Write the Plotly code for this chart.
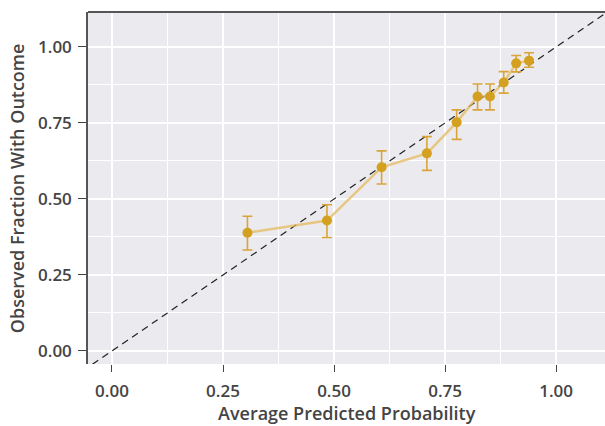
import plotly.graph_objects as go

pred_prob = [0.305, 0.484, 0.607, 0.709, 0.776, 0.823, 0.851, 0.882, 0.910, 0.939]
obs_frac = [0.389, 0.429, 0.604, 0.650, 0.752, 0.837, 0.837, 0.883, 0.946, 0.955]
ci_upper = [0.443, 0.481, 0.658, 0.705, 0.793, 0.878, 0.878, 0.919, 0.972, 0.981]
ci_lower = [0.332, 0.373, 0.549, 0.594, 0.696, 0.793, 0.793, 0.848, 0.918, 0.933]
tick_vals = [0.0, 0.25, 0.5, 0.75, 1.0]
tick_text = ["0.00", "0.25", "0.50", "0.75", "1.00"]
diag = [-0.2, 1.3]
x_title = "Average Predicted Probability"
y_title = "Observed Fraction With Outcome"

err_plus = [u - y for u, y in zip(ci_upper, obs_frac)]
err_minus = [y - l for y, l in zip(obs_frac, ci_lower)]

gold = "#D4A020"
fig = go.Figure()
fig.add_trace(go.Scatter(x=diag, y=diag, mode="lines",
                         line=dict(color="#222222", width=1.2, dash="7px,5px"),
                         hoverinfo="skip", showlegend=False))
fig.add_trace(go.Scatter(x=pred_prob, y=obs_frac, mode="lines",
                         line=dict(color="rgba(230,185,95,0.75)", width=2.5),
                         showlegend=False))
fig.add_trace(go.Scatter(x=pred_prob, y=obs_frac, mode="markers",
                         marker=dict(color=gold, size=10),
                         error_y=dict(type="data", symmetric=False, array=err_plus,
                                      arrayminus=err_minus, color="#D9A43A",
                                      thickness=1.6, width=5),
                         showlegend=False))

font_family = "Open Sans"
title_font = dict(size=18, family=font_family, color="#444444", weight=600)
fig.update_layout(
    width=605, height=426,
    margin=dict(l=88, r=0, t=12, b=62),
    paper_bgcolor="white",
    plot_bgcolor="#EBEBEF",
    font=dict(family=font_family, color="#444444"),
    shapes=[dict(type="line", xref="paper", yref="paper", x0=0, x1=1, y0=1, y1=1,
                 line=dict(color="#555555", width=2))],
    annotations=[
        dict(text=x_title, xref="paper", yref="paper", x=0.5, y=-0.139,
             xanchor="center", yanchor="middle", showarrow=False, font=title_font),
        dict(text=y_title, xref="paper", yref="paper", x=-0.137, y=0.5,
             xanchor="center", yanchor="middle", textangle=-90, showarrow=False,
             font=title_font),
    ],
)
fig.update_xaxes(
    range=[-0.054, 1.110], tickvals=tick_vals, ticktext=tick_text,
    ticks="outside", ticklen=7, tickcolor="#444444", tickwidth=1,
    ticklabelstandoff=5,
    showgrid=True, gridcolor="white", gridwidth=1.6,
    minor=dict(dtick=0.125, showgrid=True, gridcolor="white", gridwidth=0.8, tick0=0),
    zeroline=False, showline=False, automargin=False,
    tickfont=dict(size=17, family=font_family, color="#444444", weight=600),
)
fig.update_yaxes(
    range=[-0.043, 1.115], tickvals=tick_vals, ticktext=tick_text,
    ticks="outside", ticklen=8, tickcolor="#444444", tickwidth=1,
    ticklabelstandoff=3,
    showgrid=True, gridcolor="white", gridwidth=1.6,
    minor=dict(dtick=0.125, showgrid=True, gridcolor="white", gridwidth=0.8, tick0=0),
    zeroline=False, showline=True, linecolor="#555555", linewidth=1.5,
    automargin=False,
    tickfont=dict(size=17, family=font_family, color="#444444", weight=600),
)
fig.write_html("out.html", config={"displayModeBar": False},
               post_script="document.body.style.margin='0';")
